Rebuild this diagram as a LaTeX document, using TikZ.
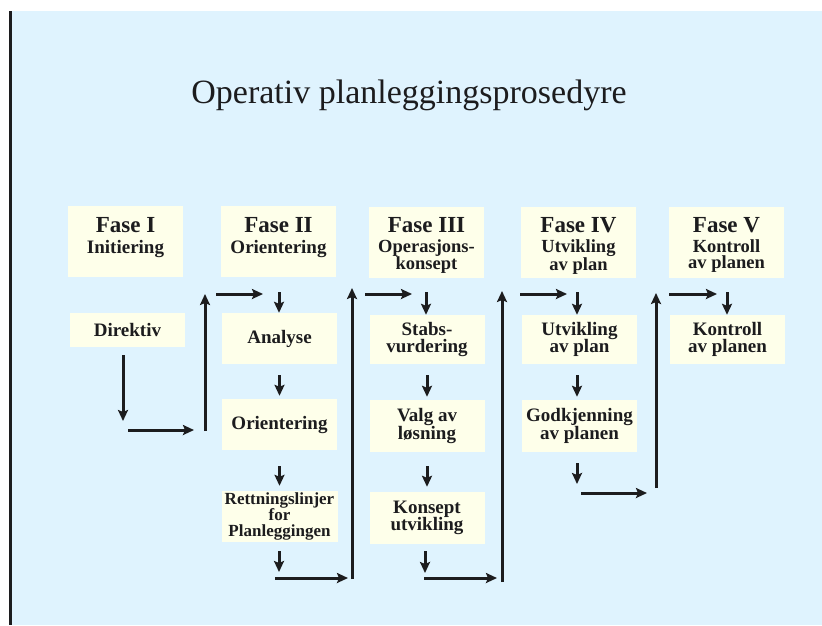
\documentclass[tikz,border=0pt]{standalone}
\usepackage{fontspec}
\setmainfont{Liberation Serif}
\usetikzlibrary{arrows.meta,calc}
\definecolor{bgblue}{RGB}{223,243,254}
\definecolor{cream}{RGB}{254,255,234}
\definecolor{ink}{RGB}{28,28,30}
\begin{document}
\begin{tikzpicture}[x=1pt,y=-1pt,
  box/.style={fill=cream, draw=none, minimum width=115pt, inner sep=0pt, align=center, text=ink, font=\fontsize{19}{17.5}\selectfont\bfseries},
  hbox/.style={fill=cream, draw=none, minimum width=115pt, minimum height=71pt, inner sep=0pt},
  fase/.style={anchor=base, text=ink, inner sep=0pt, font=\fontsize{23}{23}\selectfont\bfseries},
  sub/.style={anchor=base, text=ink, inner sep=0pt, font=\fontsize{19}{16}\selectfont\bfseries},
  subm/.style={anchor=north, align=center, text=ink, inner sep=0pt, font=\fontsize{18.5}{16.5}\selectfont\bfseries},
  arr/.style={draw=ink, line width=3pt, -{Stealth[length=11pt,width=10pt,inset=2pt]}},
]
\useasboundingbox (0,0) rectangle (822,625);
\fill[bgblue] (11,11) rectangle (822,625);
\draw[ink, line width=2.5pt] (10.7,11) -- (10.7,625);

\node[text=ink, font=\fontsize{34}{34}\selectfont, anchor=base, inner sep=0pt] (title) at (409,103) {Operativ planleggingsprosedyre};

% headers
\node[hbox] (h1) at (125.5,241.5) {};
\node[fase] (h1a) at (125.5,232) {Fase I};
\node[sub] (h1b) at (125.5,253) {Initiering};

\node[hbox] (h2) at (278.5,241.5) {};
\node[fase] (h2a) at (278.5,232) {Fase II};
\node[sub] (h2b) at (278.5,253) {Orientering};

\node[hbox] (h3) at (426.5,242.5) {};
\node[fase] (h3a) at (426.5,232) {Fase III};
\node[subm] (h3b) at (426.5,238) {\rule{0pt}{14pt}Operasjons-\\konsept};

\node[hbox] (h4) at (578.5,242.5) {};
\node[fase] (h4a) at (578.5,232) {Fase IV};
\node[subm] (h4b) at (578.5,238) {\rule{0pt}{14pt}Utvikling\\av plan};

\node[hbox] (h5) at (726.5,242.5) {};
\node[fase] (h5a) at (726.5,232) {Fase V};
\node[subm] (h5b) at (726.5,238) {\rule{0pt}{14pt}Kontroll\\av planen};

% content boxes
\node[box, minimum height=34pt] (dir) at (127.5,330) {Direktiv};
\node[box, minimum height=51pt] (ana) at (279.5,338.5) {Analyse};
\node[box, minimum height=51pt] (ori) at (279.5,424.5) {Orientering};
\node[box, minimum height=51pt, minimum width=116pt, font=\fontsize{17}{16}\selectfont\bfseries] (ret) at (279.5,516.5) {Rettningslinjer\\for\\Planleggingen};
\node[box, minimum height=49pt] (stb) at (427,339.5) {Stabs-\\vurdering};
\node[box, minimum height=52pt] (val) at (427,426) {Valg av\\løsning};
\node[box, minimum height=52pt] (kon) at (427,518) {Konsept\\utvikling};
\node[box, minimum height=49pt] (utv) at (579.5,339.5) {Utvikling\\av plan};
\node[box, minimum height=52pt] (god) at (579.5,426) {Godkjenning\\av planen};
\node[box, minimum height=49pt] (ktr) at (727.5,339.5) {Kontroll\\av planen};

% arrows inside phases
\draw[arr, shorten <=11pt, shorten >=3pt] (ana) -- (ori);
\draw[arr, shorten <=16pt, shorten >=5pt] (ori) -- (ret);
\draw[arr, shorten <=11pt, shorten >=3pt] (stb) -- (val);
\draw[arr, shorten <=14pt, shorten >=5pt] (val) -- (kon);
\draw[arr, shorten <=11pt, shorten >=3pt] ([xshift=-2.5pt]utv.south) -- ([xshift=-2.5pt]god.north);

% route I -> II
\coordinate (r1a) at (123,421);
\coordinate (r1b) at (128,430);
\coordinate (r1c) at (194,430);
\coordinate (r1d) at (205,431);
\coordinate (r1e) at (205,294);
\coordinate (r1f) at (216,294);
\coordinate (r1g) at (263,294);
\coordinate (r1h) at (279,292);
\draw[arr, shorten <=8pt] (dir.south -| r1a) -- (r1a);
\draw[arr] (r1b) -- (r1c);
\draw[arr] (r1d) -- (r1e);
\draw[arr] (r1f) -- (r1g);
\draw[arr] (r1h) -- (ana.north -| r1h);

% route II -> III
\coordinate (r2a) at (279,572);
\coordinate (r2b) at (275,578);
\coordinate (r2c) at (348,578);
\coordinate (r2d) at (352,579);
\coordinate (r2e) at (352,288);
\coordinate (r2f) at (365,294);
\coordinate (r2g) at (412,294);
\coordinate (r2h) at (426,292);
\draw[arr, shorten <=9pt] (ret.south -| r2a) -- (r2a);
\draw[arr] (r2b) -- (r2c);
\draw[arr] (r2d) -- (r2e);
\draw[arr] (r2f) -- (r2g);
\draw[arr] (r2h) -- (stb.north -| r2h);

% route III -> IV
\coordinate (r3a) at (425,573);
\coordinate (r3b) at (424,578);
\coordinate (r3c) at (497,578);
\coordinate (r3d) at (502,582);
\coordinate (r3e) at (502,291);
\coordinate (r3f) at (520,294);
\coordinate (r3g) at (567,294);
\coordinate (r3h) at (577,292);
\draw[arr, shorten <=7pt] (kon.south -| r3a) -- (r3a);
\draw[arr] (r3b) -- (r3c);
\draw[arr] (r3d) -- (r3e);
\draw[arr] (r3f) -- (r3g);
\draw[arr] (r3h) -- (utv.north -| r3h);

% route IV -> V
\coordinate (r4a) at (577,484);
\coordinate (r4b) at (581,493);
\coordinate (r4c) at (647,493);
\coordinate (r4d) at (656,488);
\coordinate (r4e) at (656,293);
\coordinate (r4f) at (669,294);
\coordinate (r4g) at (717,294);
\coordinate (r4h) at (727,292);
\draw[arr, shorten <=11pt] (god.south -| r4a) -- (r4a);
\draw[arr] (r4b) -- (r4c);
\draw[arr] (r4d) -- (r4e);
\draw[arr] (r4f) -- (r4g);
\draw[arr] (r4h) -- (ktr.north -| r4h);
\end{tikzpicture}
\end{document}
